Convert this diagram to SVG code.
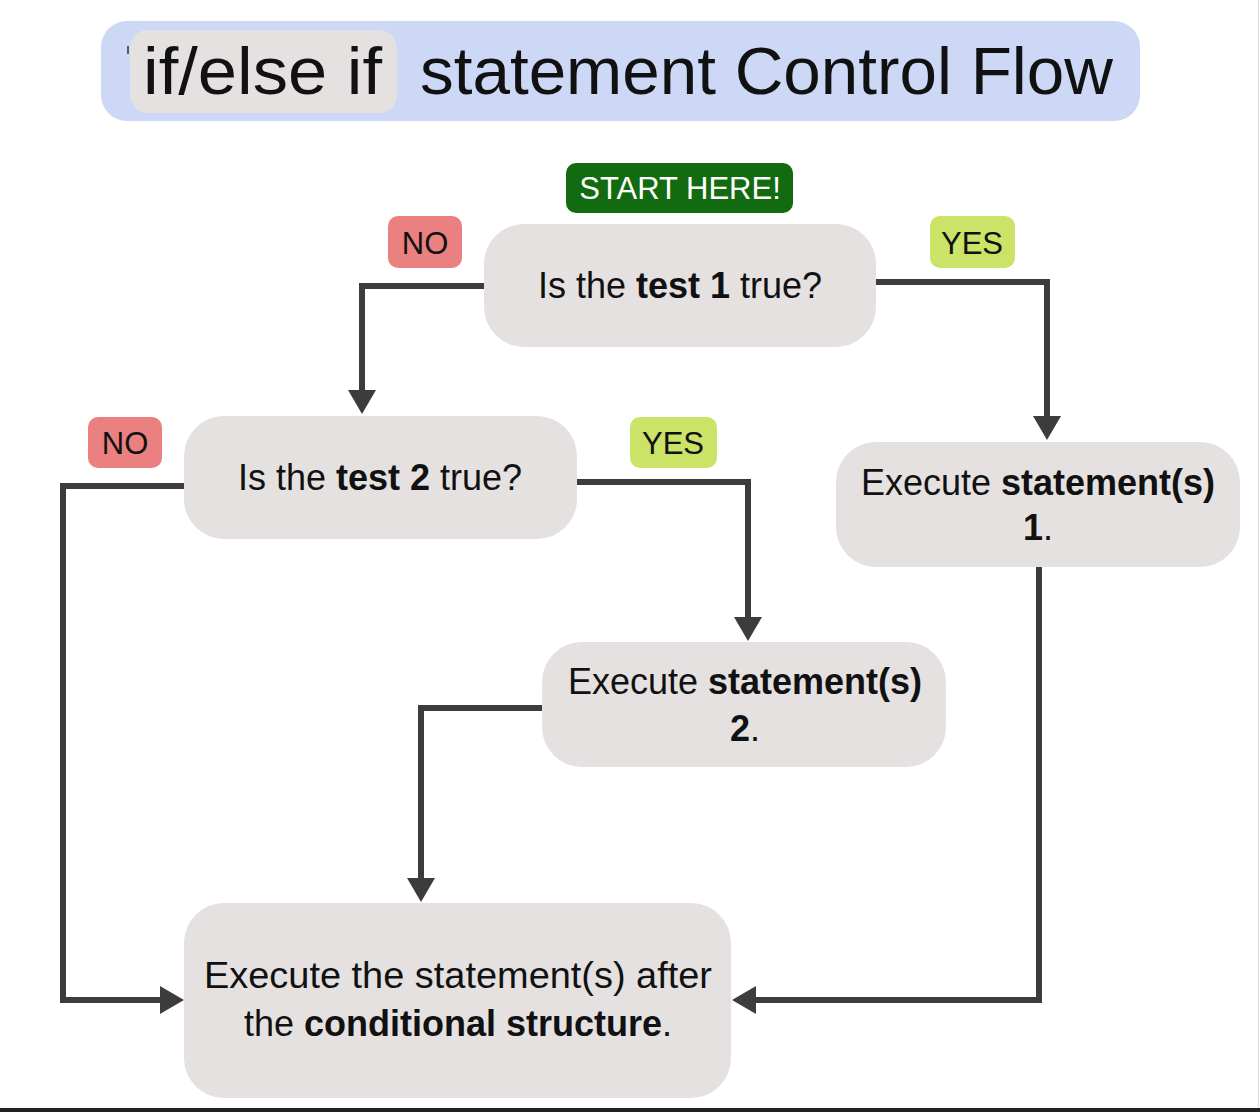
<svg xmlns="http://www.w3.org/2000/svg" width="1260" height="1112" viewBox="0 0 1260 1112">
<defs>
<style>
.node{fill:#e4e1e0;}
.t{font-family:"Liberation Sans",Arial,Helvetica,sans-serif;fill:#111;}
.nt{font-size:36px;text-anchor:middle;}
.b{font-weight:bold;}
.lbl{font-family:"Liberation Sans",Arial,Helvetica,sans-serif;font-size:31px;text-anchor:middle;fill:#111;}
.no{fill:#ea8080;}
.yes{fill:#cbe366;}
.conn{fill:none;stroke:#3c3c3c;stroke-width:6;stroke-linejoin:miter;}
</style>
<marker id="arr" viewBox="0 0 24 28" refX="1" refY="14" markerWidth="24" markerHeight="28" markerUnits="userSpaceOnUse" orient="auto">
<path d="M0,0 L24,14 L0,28 z" fill="#3c3c3c"/>
</marker>
</defs>
<rect x="0" y="0" width="1260" height="1112" fill="#ffffff"/>
<line x1="1258.5" y1="0" x2="1258.5" y2="1108" stroke="#dddddd" stroke-width="1"/>
<rect x="0" y="1108" width="1260" height="4" fill="#222222"/>

<g id="title">
<rect x="101" y="21" width="1039" height="100" rx="26" fill="#cdd8f7"/>
<rect x="130" y="30" width="267" height="83" rx="18" fill="#e4e1e0"/>
<line x1="128" y1="46" x2="128" y2="54" stroke="#333" stroke-width="1.5"/>
<text class="t" x="143" y="94" font-size="66" textLength="239" lengthAdjust="spacingAndGlyphs">if/else if</text>
<text class="t" x="420" y="94" font-size="67" textLength="693" lengthAdjust="spacingAndGlyphs">statement Control Flow</text>
</g>

<g id="connectors">
<path class="conn" d="M484,286 H362 V391" marker-end="url(#arr)"/>
<path class="conn" d="M876,282 H1047 V417" marker-end="url(#arr)"/>
<path class="conn" d="M184,486 H63 V1000 H161" marker-end="url(#arr)"/>
<path class="conn" d="M577,482 H748 V618" marker-end="url(#arr)"/>
<path class="conn" d="M542,708 H421 V879" marker-end="url(#arr)"/>
<path class="conn" d="M1039,567 V1000 H755" marker-end="url(#arr)"/>
</g>

<g id="start">
<rect x="566" y="163" width="227" height="50" rx="10" fill="#126b10"/>
<text class="lbl" x="680" y="199" style="fill:#ffffff">START HERE!</text>
</g>

<g id="label-no-1">
<rect class="no" x="388" y="216" width="74" height="52" rx="10"/>
<text class="lbl" x="425" y="254">NO</text>
</g>
<g id="label-yes-1">
<rect class="yes" x="930" y="216" width="85" height="52" rx="10"/>
<text class="lbl" x="972" y="254">YES</text>
</g>
<g id="label-no-2">
<rect class="no" x="88" y="417" width="74" height="51" rx="10"/>
<text class="lbl" x="125" y="454">NO</text>
</g>
<g id="label-yes-2">
<rect class="yes" x="630" y="417" width="87" height="51" rx="10"/>
<text class="lbl" x="673" y="454">YES</text>
</g>

<g id="test1">
<rect class="node" x="484" y="224" width="392" height="123" rx="40"/>
<text class="t nt" x="680" y="298">Is the <tspan class="b">test 1</tspan> true?</text>
</g>

<g id="test2">
<rect class="node" x="184" y="416" width="393" height="123" rx="40"/>
<text class="t nt" x="380" y="490">Is the <tspan class="b">test 2</tspan> true?</text>
</g>

<g id="stmt1">
<rect class="node" x="836" y="442" width="404" height="125" rx="40"/>
<text class="t nt" x="1038" y="495">Execute <tspan class="b">statement(s)</tspan></text>
<text class="t nt" x="1038" y="540"><tspan class="b">1</tspan>.</text>
</g>

<g id="stmt2">
<rect class="node" x="542" y="642" width="404" height="125" rx="40"/>
<text class="t nt" x="745" y="694">Execute <tspan class="b">statement(s)</tspan></text>
<text class="t nt" x="745" y="741"><tspan class="b">2</tspan>.</text>
</g>

<g id="after">
<rect class="node" x="184" y="903" width="547" height="195" rx="40"/>
<text class="t nt" x="458" y="988" textLength="508" lengthAdjust="spacingAndGlyphs">Execute the statement(s) after</text>
<text class="t nt" x="458" y="1036">the <tspan class="b">conditional structure</tspan>.</text>
</g>
</svg>
